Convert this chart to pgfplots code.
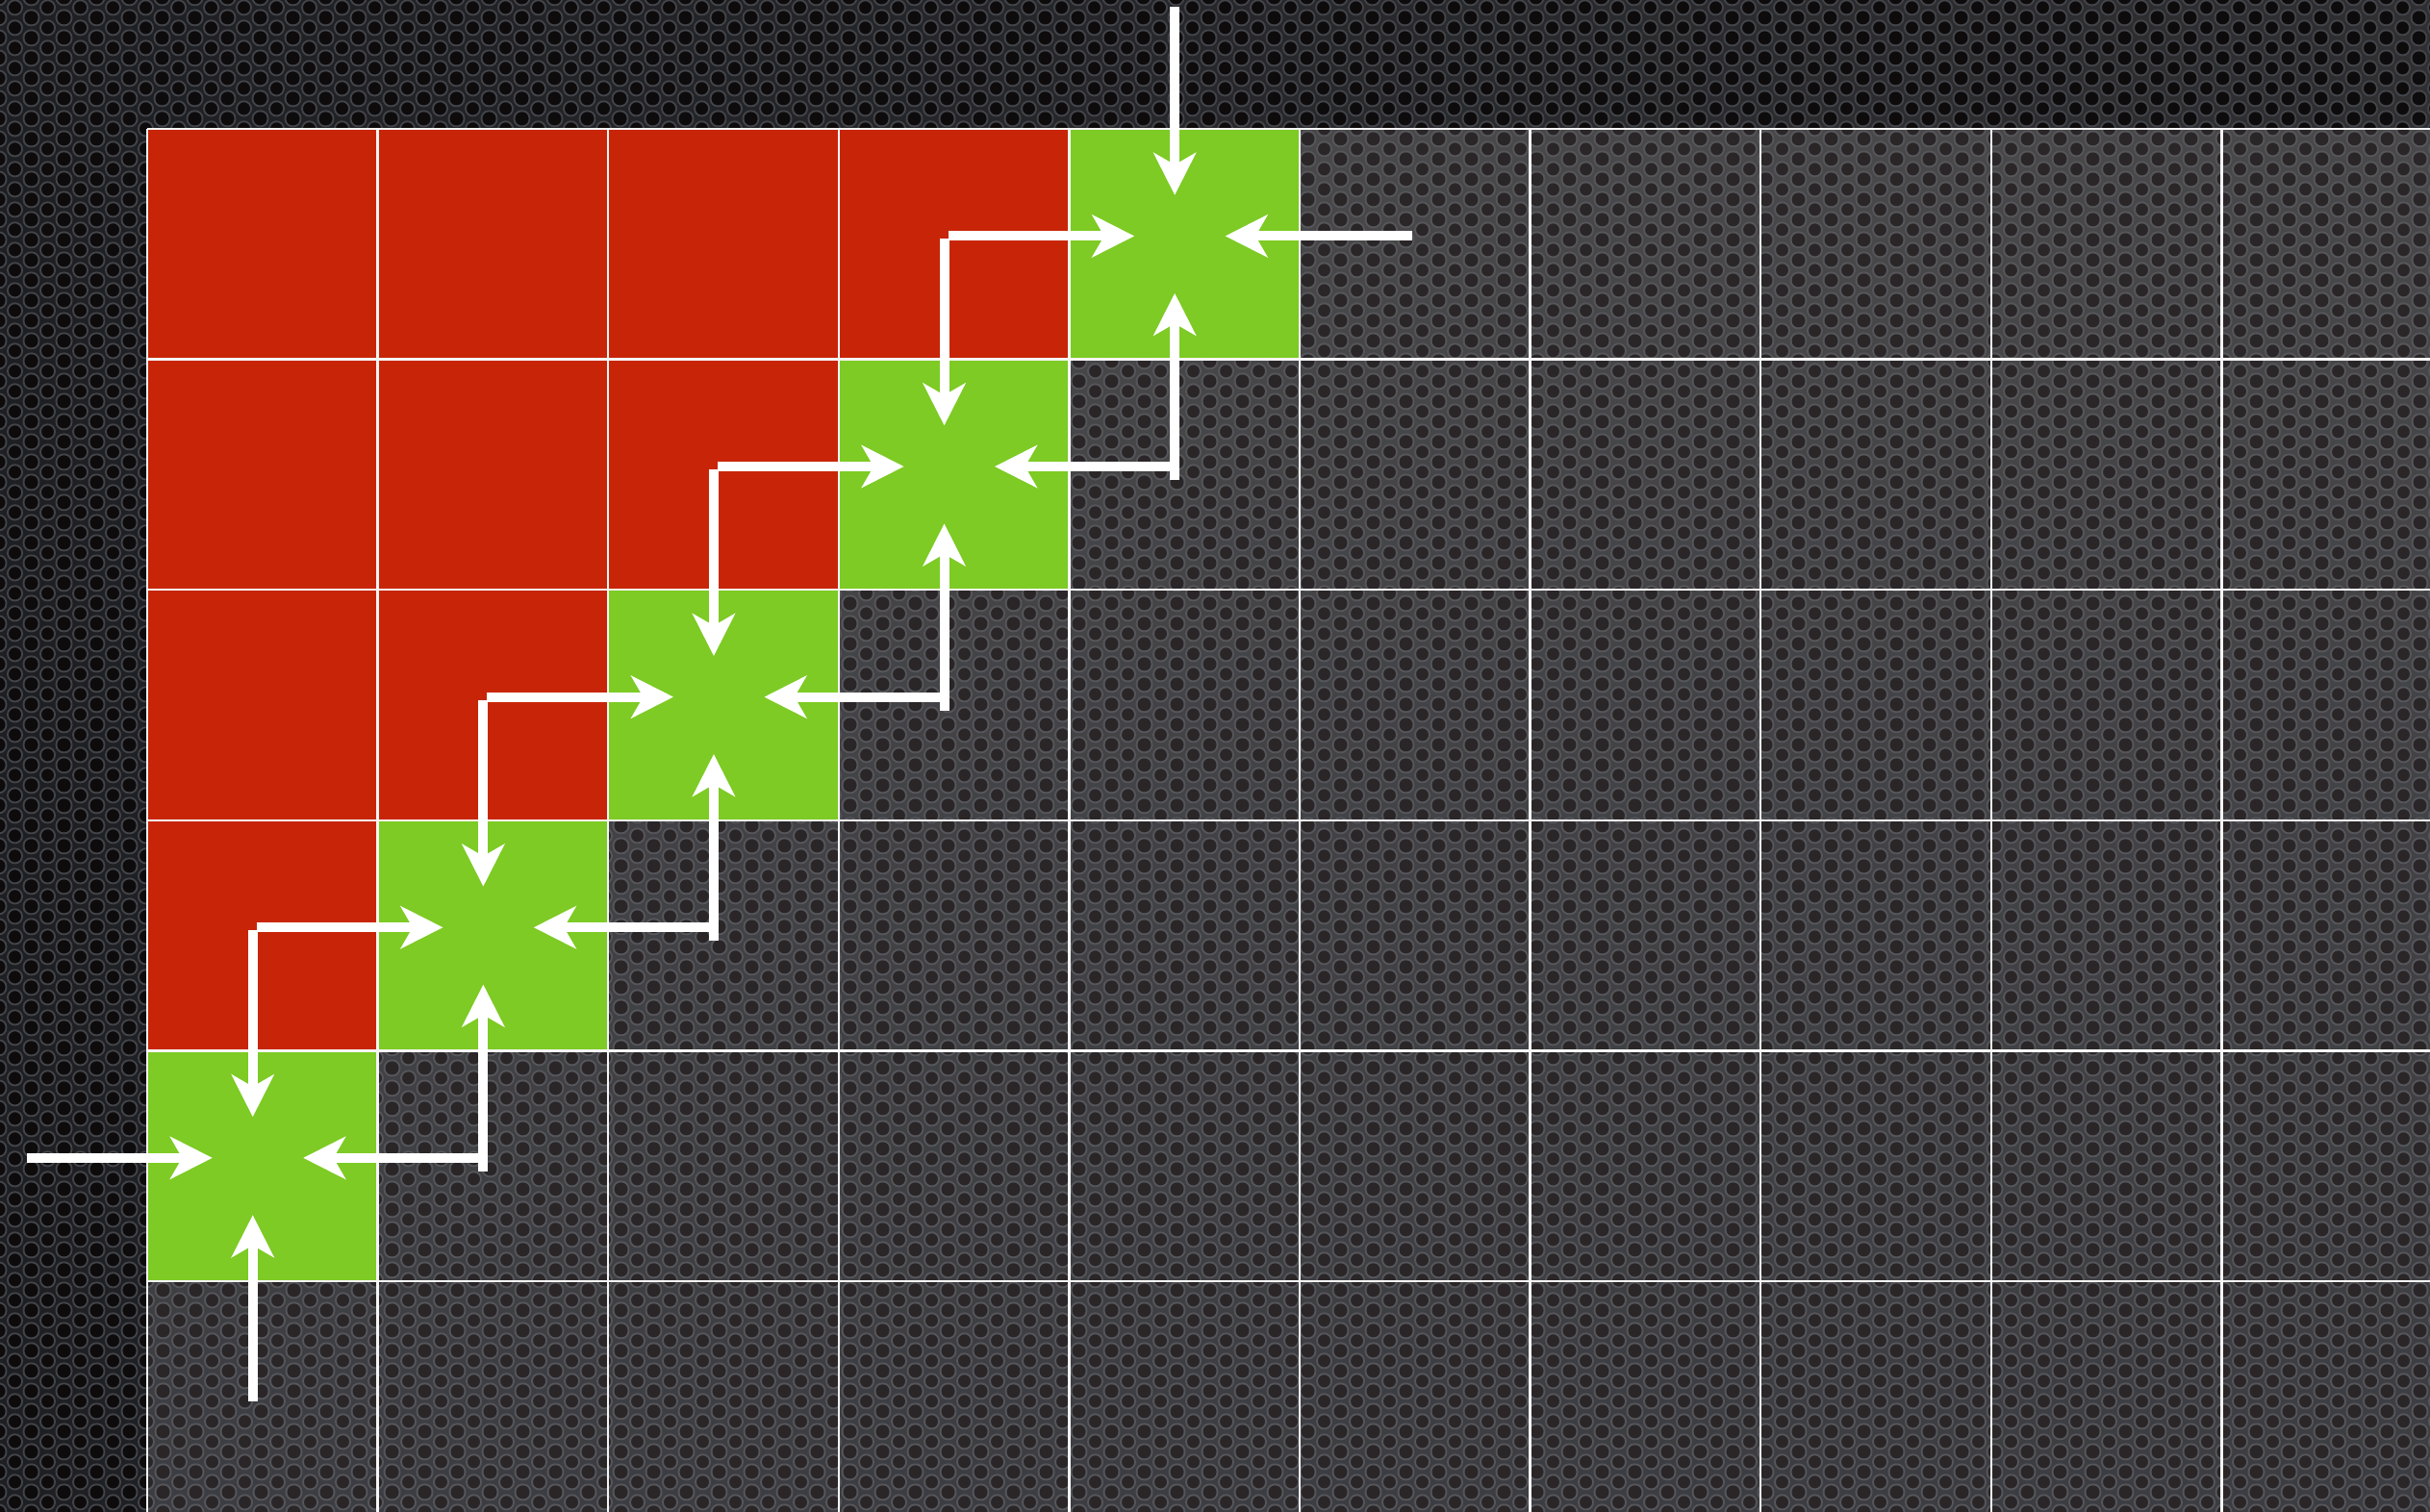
\documentclass[border=0pt]{standalone}
\usepackage{pgfplots}
\pgfplotsset{compat=1.18}
\usetikzlibrary{arrows.meta,patterns}
\definecolor{cellred}{RGB}{200,37,8}
\definecolor{cellgreen}{RGB}{125,203,36}
\definecolor{outL}{RGB}{30,31,35}
\definecolor{outR}{RGB}{47,47,50}
\definecolor{outHole}{RGB}{14,11,12}
\definecolor{outRing}{RGB}{66,68,73}
\definecolor{inTop}{RGB}{72,72,74}
\definecolor{inBot}{RGB}{60,61,66}
\definecolor{inHole}{RGB}{42,38,40}
\definecolor{inRing}{RGB}{86,86,90}
\pgfdeclarepatternformonly{holes}{\pgfqpoint{0pt}{0pt}}{\pgfqpoint{6.06pt}{3.67pt}}{\pgfqpoint{6.06pt}{3.67pt}}{%
  \pgfpathcircle{\pgfqpoint{0pt}{0pt}}{1.16pt}%
  \pgfpathcircle{\pgfqpoint{6.06pt}{0pt}}{1.16pt}%
  \pgfpathcircle{\pgfqpoint{0pt}{3.67pt}}{1.16pt}%
  \pgfpathcircle{\pgfqpoint{6.06pt}{3.67pt}}{1.16pt}%
  \pgfpathcircle{\pgfqpoint{3.03pt}{1.835pt}}{1.16pt}%
  \pgfusepath{fill}}
\pgfdeclarepatternformonly{rings}{\pgfqpoint{0pt}{0pt}}{\pgfqpoint{6.06pt}{3.67pt}}{\pgfqpoint{6.06pt}{3.67pt}}{%
  \pgfsetlinewidth{0.34pt}%
  \pgfpathcircle{\pgfqpoint{0pt}{0pt}}{1.38pt}%
  \pgfpathcircle{\pgfqpoint{6.06pt}{0pt}}{1.38pt}%
  \pgfpathcircle{\pgfqpoint{0pt}{3.67pt}}{1.38pt}%
  \pgfpathcircle{\pgfqpoint{6.06pt}{3.67pt}}{1.38pt}%
  \pgfpathcircle{\pgfqpoint{3.03pt}{1.835pt}}{1.38pt}%
  \pgfusepath{stroke}}
\tikzset{
  gridl/.style={white!92!gray, line width=0.42pt},
  arr/.style={white, line width=1.78pt, line cap=butt, -{Stealth[length=7.8pt, width=7.8pt, inset=2.2pt]}},
}
\begin{document}
\begin{tikzpicture}
\begin{axis}[name=ax, scale only axis, width=15.814cm, height=9.839cm,
  xmin=-0.6386, xmax=9.904, ymin=0, ymax=6.5593, hide axis, clip=true]
% background outside the grid
\addplot[draw=none, left color=outL, right color=outR] coordinates {(-0.6386,0) (9.904,0) (9.904,6.5593) (-0.6386,6.5593)} -- cycle;
\addplot[draw=none, pattern=rings, pattern color=outRing] coordinates {(-0.6386,0) (9.904,0) (9.904,6.5593) (-0.6386,6.5593)} -- cycle;
\addplot[draw=none, pattern=holes, pattern color=outHole] coordinates {(-0.6386,0) (9.904,0) (9.904,6.5593) (-0.6386,6.5593)} -- cycle;
% background inside the grid
\addplot[draw=none, top color=inTop, bottom color=inBot] coordinates {(0,0) (9.904,0) (9.904,6) (0,6)} -- cycle;
\addplot[draw=none, pattern=rings, pattern color=inRing] coordinates {(0,0) (9.904,0) (9.904,6) (0,6)} -- cycle;
\addplot[draw=none, pattern=holes, pattern color=inHole] coordinates {(0,0) (9.904,0) (9.904,6) (0,6)} -- cycle;
% red region
\addplot[draw=none, fill=cellred] coordinates {(0,2) (1,2) (1,3) (2,3) (2,4) (3,4) (3,5) (4,5) (4,6) (0,6)} -- cycle;
% green cells
\addplot[draw=none, fill=cellgreen] coordinates {(0,1) (1,1) (1,2) (0,2)} -- cycle;
\addplot[draw=none, fill=cellgreen] coordinates {(1,2) (2,2) (2,3) (1,3)} -- cycle;
\addplot[draw=none, fill=cellgreen] coordinates {(2,3) (3,3) (3,4) (2,4)} -- cycle;
\addplot[draw=none, fill=cellgreen] coordinates {(3,4) (4,4) (4,5) (3,5)} -- cycle;
\addplot[draw=none, fill=cellgreen] coordinates {(4,5) (5,5) (5,6) (4,6)} -- cycle;
% grid lines
\pgfplotsinvokeforeach{0,...,9}{\addplot[gridl] coordinates {(#1,0) (#1,6)};}
\pgfplotsinvokeforeach{1,...,6}{\addplot[gridl] coordinates {(0,#1) (9.904,#1)};}
% arrows, cell 0
\addplot[arr] coordinates {(-0.522,1.535) (0.283,1.535)};
\addplot[arr] coordinates {(1.478,1.535) (0.677,1.535)};
\addplot[arr] coordinates {(0.458,2.523) (0.458,1.713)};
\addplot[arr] coordinates {(0.458,0.477) (0.458,1.287)};
% cell 1
\addplot[arr] coordinates {(0.475,2.535) (1.283,2.535)};
\addplot[arr] coordinates {(2.478,2.535) (1.677,2.535)};
\addplot[arr] coordinates {(1.458,3.523) (1.458,2.713)};
\addplot[arr] coordinates {(1.458,1.477) (1.458,2.287)};
% cell 2
\addplot[arr] coordinates {(1.475,3.535) (2.283,3.535)};
\addplot[arr] coordinates {(3.478,3.535) (2.677,3.535)};
\addplot[arr] coordinates {(2.458,4.523) (2.458,3.713)};
\addplot[arr] coordinates {(2.458,2.477) (2.458,3.287)};
% cell 3
\addplot[arr] coordinates {(2.475,4.535) (3.283,4.535)};
\addplot[arr] coordinates {(4.478,4.535) (3.677,4.535)};
\addplot[arr] coordinates {(3.458,5.523) (3.458,4.713)};
\addplot[arr] coordinates {(3.458,3.477) (3.458,4.287)};
% cell 4
\addplot[arr] coordinates {(3.475,5.535) (4.283,5.535)};
\addplot[arr] coordinates {(5.488,5.535) (4.677,5.535)};
\addplot[arr] coordinates {(4.458,6.528) (4.458,5.713)};
\addplot[arr] coordinates {(4.458,4.477) (4.458,5.287)};
\end{axis}
\pgfresetboundingbox
\path[use as bounding box] (ax.south west) rectangle (ax.north east);
\end{tikzpicture}
\end{document}
